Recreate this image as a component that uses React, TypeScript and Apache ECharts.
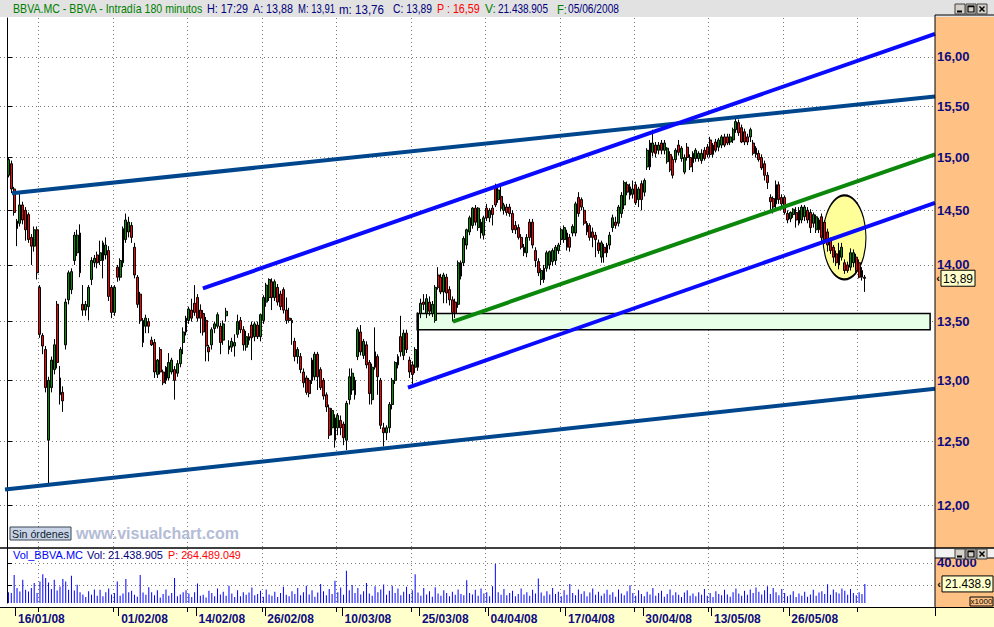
import React, { useEffect, useRef } from "react";
import * as echarts from "echarts";

const FONT = "'Liberation Sans', Arial, sans-serif";

// ---- trading calendar (one 180-minute bar per session) ----
const tradingMonths: { month: string; days: number[] }[] = [
  { month: "01", days: [15, 16, 17, 18, 21, 22, 23, 24, 25, 28, 29, 30, 31] },
  { month: "02", days: [1, 4, 5, 6, 7, 8, 11, 12, 13, 14, 15, 18, 19, 20, 21, 22, 25, 26, 27, 28, 29] },
  { month: "03", days: [3, 4, 5, 6, 7, 10, 11, 12, 13, 14, 17, 18, 19, 20, 25, 26, 27, 28, 31] },
  { month: "04", days: [1, 2, 3, 4, 7, 8, 9, 10, 11, 14, 15, 16, 17, 18, 21, 22, 23, 24, 25, 28, 29, 30] },
  { month: "05", days: [2, 5, 6, 7, 8, 9, 12, 13, 14, 15, 16, 19, 20, 21, 22, 23, 26, 27, 28, 29, 30] },
  { month: "06", days: [2, 3, 4, 5] },
];
const sessions = ["09:00", "12:00", "15:00"];
const labeledDates = ["16/01/08", "01/02/08", "14/02/08", "26/02/08", "10/03/08", "25/03/08", "04/04/08", "17/04/08", "30/04/08", "13/05/08", "26/05/08"];
const tickPrices = [12, 12.5, 13, 13.5, 14, 14.5, 15, 15.5, 16];
// vertical dotted grid, in bar-boundary positions
const gridPositions = [11, 37, 63, 89, 115, 141, 167, 193, 219, 245, 271, 297];

// ---- OHLC bars: [open, high, low, close] ----
const janBars = [
  [14.83,15.00,14.81,14.98],[14.94,14.97,14.66,14.70],[14.70,14.72,14.45,14.48],[14.40,14.42,14.17,14.33],[14.38,14.66,14.35,14.55],
  [14.55,14.58,14.37,14.41],[14.50,14.53,14.22,14.32],[14.46,14.48,14.20,14.23],[14.25,14.28,14.00,14.17],[14.17,14.35,14.12,14.32],
  [14.32,14.35,13.87,13.93],[13.80,13.82,13.36,13.39],[13.38,13.40,13.22,13.29],[13.26,13.29,12.90,12.94],[12.51,13.03,12.17,13.00],
  [12.94,13.20,12.90,13.17],[13.09,13.35,13.05,13.30],[13.65,13.68,13.10,13.15],[13.02,13.12,12.80,12.88],[12.90,12.95,12.74,12.83],
  [13.30,13.70,13.26,13.67],[13.69,13.95,13.65,13.93],[13.78,13.97,13.74,13.94],[14.04,14.30,14.00,14.27],[14.11,14.32,14.08,14.27],
  [14.29,14.37,13.89,13.93],[13.65,13.82,13.55,13.60],[13.60,13.68,13.55,13.65],[13.63,13.82,13.51,13.80],[13.87,14.07,13.82,14.04],
  [14.02,14.09,13.98,14.06],[14.09,14.12,13.97,14.02],[14.04,14.22,14.00,14.11],[14.04,14.22,13.88,14.20],[14.09,14.25,14.05,14.18],
  [14.13,14.17,13.68,13.72],[13.80,13.82,13.53,13.58],[13.58,13.82,13.55,13.80],[13.98,14.00,13.85,13.89],
];
const febBars = [
  [13.89,14.06,13.86,14.04],
  [14.02,14.35,13.98,14.33],[14.23,14.47,14.20,14.41],[14.30,14.44,14.25,14.39],[14.36,14.39,14.20,14.25],[14.16,14.20,13.88,13.91],
  [13.89,13.91,13.62,13.65],[13.74,13.76,13.48,13.51],[13.32,13.53,13.28,13.51],[13.46,13.56,13.40,13.53],[13.50,13.53,13.40,13.46],
  [13.34,13.37,13.29,13.30],[13.32,13.35,13.02,13.07],[13.05,13.18,13.02,13.17],[13.26,13.28,13.05,13.07],[13.07,13.09,12.96,12.98],
  [13.00,13.12,12.97,13.11],[13.02,13.23,13.00,13.15],[13.07,13.19,13.05,13.17],[13.09,13.12,12.84,13.00],[13.06,13.17,13.03,13.14],
  [13.14,13.28,13.11,13.26],[13.32,13.45,13.22,13.41],[13.41,13.55,13.38,13.53],[13.51,13.63,13.48,13.61],[13.60,13.70,13.50,13.53],
  [13.66,13.82,13.55,13.58],[13.71,13.74,13.50,13.53],[13.60,13.65,13.40,13.53],[13.57,13.60,13.38,13.41],[13.51,13.54,13.16,13.29],
  [13.28,13.30,13.16,13.24],[13.30,13.45,13.26,13.43],[13.44,13.50,13.40,13.48],[13.46,13.58,13.44,13.56],[13.46,13.49,13.22,13.32],
  [13.34,13.51,13.30,13.48],[13.55,13.62,13.50,13.59],[13.29,13.34,13.22,13.26],[13.28,13.36,13.24,13.33],[13.29,13.39,13.20,13.32],
  [13.39,13.56,13.36,13.50],[13.51,13.54,13.40,13.43],[13.43,13.46,13.25,13.30],[13.28,13.42,13.25,13.37],[13.34,13.40,13.30,13.37],
  [13.47,13.50,13.17,13.36],[13.37,13.50,13.33,13.48],[13.47,13.50,13.35,13.37],[13.37,13.57,13.33,13.56],[13.51,13.73,13.48,13.71],
  [13.67,13.84,13.63,13.82],[13.71,13.88,13.68,13.87],[13.85,13.88,13.60,13.71],[13.71,13.87,13.68,13.85],[13.80,13.83,13.64,13.67],
  [13.74,13.77,13.60,13.63],[13.78,13.80,13.57,13.60],[13.60,13.71,13.48,13.51],[13.53,13.62,13.49,13.51],[13.49,13.53,13.30,13.51],
  [13.33,13.36,13.16,13.20],[13.20,13.28,13.14,13.26],
];
const marBars = [
  [13.20,13.23,13.06,13.09],[13.07,13.10,12.94,12.98],[13.02,13.04,12.88,12.90],[13.00,13.02,12.86,12.89],[13.00,13.19,12.97,13.17],
  [13.03,13.24,13.00,13.22],[13.22,13.24,12.92,13.03],[13.09,13.11,12.92,12.94],[13.00,13.02,12.84,12.87],[12.88,12.90,12.74,12.78],
  [12.77,12.80,12.52,12.55],[12.61,12.77,12.55,12.75],[12.69,12.72,12.45,12.51],[12.61,12.73,12.55,12.71],[12.67,12.71,12.55,12.61],
  [12.64,12.66,12.47,12.53],[12.51,12.83,12.43,12.81],[12.84,13.10,12.80,13.03],[12.92,13.10,12.88,13.06],[13.00,13.03,12.84,12.88],
  [13.20,13.45,13.17,13.43],[13.41,13.47,13.21,13.24],[13.21,13.35,13.18,13.33],[13.30,13.33,13.10,13.13],[13.15,13.17,12.80,12.89],
  [12.84,13.14,12.80,13.11],[13.24,13.45,13.09,13.11],[13.20,13.22,12.88,13.03],[13.00,13.02,12.60,12.63],[12.61,12.65,12.46,12.57],
  [12.57,12.63,12.51,12.61],[12.61,12.82,12.57,12.80],[12.80,13.02,12.76,13.00],[13.00,13.16,12.97,13.15],[13.13,13.22,13.10,13.20],
  [13.37,13.55,13.20,13.24],[13.21,13.43,13.17,13.40],[13.40,13.43,13.23,13.26],[13.17,13.20,13.02,13.07],[13.13,13.16,12.97,13.05],
  [13.11,13.28,13.06,13.26],[13.11,13.58,13.08,13.57],[13.57,13.70,13.53,13.66],[13.67,13.74,13.60,13.65],[13.57,13.74,13.53,13.70],
  [13.67,13.72,13.55,13.59],[13.57,13.68,13.54,13.65],[13.51,13.82,13.49,13.80],[13.91,13.98,13.78,13.80],[13.89,13.92,13.74,13.76],
  [13.76,13.93,13.66,13.91],[13.89,13.92,13.66,13.75],[13.78,13.81,13.64,13.69],[13.69,13.72,13.50,13.58],[13.67,13.70,13.53,13.57],
  [13.65,14.04,13.62,14.02],[13.90,14.04,13.87,14.02],
];
const aprBars = [
  [14.02,14.26,13.99,14.24],
  [14.18,14.33,14.14,14.32],[14.30,14.45,14.27,14.43],[14.36,14.53,14.33,14.52],[14.52,14.55,14.36,14.39],[14.34,14.53,14.31,14.52],
  [14.39,14.42,14.24,14.29],[14.27,14.45,14.23,14.43],[14.52,14.56,14.40,14.43],[14.43,14.52,14.39,14.50],[14.52,14.55,14.36,14.46],
  [14.71,14.75,14.53,14.55],[14.60,14.72,14.57,14.69],[14.63,14.74,14.49,14.52],[14.50,14.57,14.46,14.55],[14.53,14.56,14.45,14.48],
  [14.53,14.56,14.44,14.47],[14.47,14.50,14.29,14.32],[14.36,14.40,14.28,14.32],[14.34,14.37,14.23,14.25],[14.25,14.28,14.14,14.16],
  [14.16,14.19,14.08,14.11],[14.11,14.28,14.07,14.25],[14.39,14.42,14.22,14.25],[14.39,14.42,14.15,14.18],[14.13,14.16,13.98,14.04],
  [14.03,14.06,13.90,13.93],[13.87,13.97,13.82,13.95],[13.97,14.00,13.84,13.87],[13.97,14.13,13.94,14.11],[14.00,14.13,13.96,14.12],
  [14.03,14.15,13.99,14.13],[14.04,14.18,14.00,14.16],[14.13,14.20,14.10,14.18],[14.23,14.34,14.18,14.32],[14.23,14.36,14.20,14.34],
  [14.29,14.32,14.13,14.16],[14.25,14.28,14.12,14.16],[14.29,14.37,14.26,14.35],[14.29,14.58,14.26,14.56],[14.62,14.67,14.44,14.47],
  [14.60,14.62,14.50,14.53],[14.50,14.53,14.36,14.38],[14.38,14.40,14.27,14.30],[14.36,14.38,14.22,14.25],[14.30,14.34,14.16,14.25],
  [14.27,14.30,14.07,14.23],[14.20,14.23,14.10,14.13],[14.07,14.22,14.02,14.20],[14.16,14.19,14.02,14.11],[14.11,14.20,14.07,14.18],
  [14.18,14.30,14.14,14.27],[14.34,14.46,14.30,14.43],[14.39,14.44,14.33,14.36],[14.38,14.55,14.35,14.53],[14.47,14.67,14.43,14.64],
  [14.55,14.78,14.51,14.76],[14.74,14.77,14.64,14.67],[14.72,14.75,14.60,14.64],[14.65,14.78,14.61,14.70],[14.74,14.77,14.55,14.57],
  [14.60,14.72,14.53,14.70],[14.75,14.78,14.50,14.60],[14.67,14.80,14.63,14.78],[14.91,15.09,14.88,15.07],[15.14,15.17,14.88,14.91],
];
const mayBars = [
  [15.05,15.27,15.01,15.14],[15.12,15.15,15.00,15.04],[15.07,15.15,15.03,15.12],[15.14,15.17,15.03,15.07],[15.07,15.17,15.03,15.14],
  [14.96,15.10,14.94,15.09],[15.03,15.06,14.86,14.88],[14.98,15.01,14.80,14.83],[14.98,15.09,14.95,15.07],[15.12,15.17,15.02,15.05],
  [14.99,15.11,14.96,15.09],[14.86,15.03,14.84,15.00],[15.10,15.14,14.97,15.00],[15.00,15.03,14.88,14.91],[14.95,15.06,14.86,15.04],
  [14.99,15.09,14.96,15.07],[14.99,15.06,14.96,15.04],[14.97,15.08,14.94,15.04],[15.07,15.10,14.97,14.99],[15.10,15.13,15.00,15.03],
  [15.17,15.20,15.00,15.03],[15.03,15.14,15.00,15.12],[15.15,15.18,15.05,15.07],[15.10,15.19,15.06,15.17],[15.12,15.22,15.09,15.20],
  [15.20,15.23,15.10,15.12],[15.20,15.23,15.12,15.14],[15.15,15.23,15.12,15.20],[15.17,15.29,15.14,15.27],[15.27,15.40,15.24,15.35],
  [15.34,15.37,15.21,15.24],[15.29,15.32,15.14,15.15],[15.25,15.28,15.12,15.15],[15.20,15.23,15.12,15.15],[15.20,15.29,15.15,15.27],
  [15.14,15.17,15.02,15.04],[15.09,15.11,15.00,15.03],[15.04,15.07,14.96,14.98],[15.00,15.03,14.88,14.90],[14.94,14.97,14.78,14.83],
  [14.83,14.86,14.70,14.76],[14.62,14.65,14.48,14.58],[14.61,14.63,14.47,14.53],[14.56,14.78,14.52,14.74],[14.74,14.77,14.56,14.60],
  [14.62,14.65,14.52,14.56],[14.62,14.64,14.46,14.48],[14.47,14.50,14.38,14.41],[14.42,14.49,14.39,14.48],[14.46,14.52,14.43,14.51],
  [14.48,14.53,14.34,14.41],[14.50,14.53,14.36,14.38],[14.41,14.55,14.38,14.53],[14.44,14.55,14.40,14.53],[14.50,14.53,14.38,14.41],
  [14.48,14.51,14.29,14.34],[14.38,14.48,14.34,14.46],[14.32,14.46,14.29,14.44],[14.32,14.43,14.29,14.41],[14.44,14.47,14.21,14.25],
  [14.39,14.41,14.19,14.23],[14.30,14.33,14.12,14.18],[14.23,14.25,14.10,14.13],
];
const junBars = [
  [14.16,14.18,14.02,14.07],[14.10,14.13,13.99,14.02],[14.00,14.20,13.96,14.13],[14.07,14.20,14.04,14.16],[14.02,14.05,13.92,13.95],
  [14.00,14.03,13.93,13.95],[13.98,14.15,13.95,14.11],[14.02,14.14,13.98,14.11],[14.07,14.10,13.93,13.95],[14.02,14.05,13.88,13.89],
  [13.95,13.98,13.86,13.89],[13.88,13.91,13.76,13.89],
];

// ---- volume per bar, thousands of shares ----
const janVolume = [14000,13400,29400,17800,14800,25200,16400,14800,17800,22200,13400,23600,30100,26600,22800,16900,25200,15700,19200,25700,23600,16400,28700,15700,20800,14000,12000,9800,15000,11800,16600,11000,16200,10600,14200,17400,12200,13400,23600];
const febVolume = [11000,13000,25700,14200,15400,11800,10200,29400,13800,11800,18600,14200,11400,15800,9400,12600,16600,11000,13400,26600,10600,12200,14200,15800,13000,9800,14200,21800,11000,11800,9400,15400,13400,10600,17400,12200,14600,11000,19800,13000,9800,15800,10600,14200,11800,13800,18200,11400,12600,15400,10200,16600,12200,11000,14600,9800,13400,19000,11800,10600,15000,12600,17800];
const marVolume = [11400,14200,19800,12200,15800,10200,13800,21400,15000,11400,17000,12600,24200,14200,18200,11800,33100,15800,20600,13400,17800,12200,15000,22200,13000,11000,19400,14200,16600,21000,11800,15400,19800,13400,17400,11400,14600,19000,12600,15800,30100,13800,11000,17800,12200,15000,10200,18600,13000,11000,15800,13400,10600,14600,11800,16600,12600];
const aprVolume = [11400,24600,13400,12200,16200,11000,17400,13000,14200,10600,19400,39000,14200,11800,17000,11400,13400,15400,10600,12600,17400,12200,14200,11000,16200,13000,26200,13800,11000,15000,12200,17800,12600,14600,10600,15800,11800,21400,13400,11400,16600,12600,15000,10600,13800,17400,11800,14600,11000,13000,16200,11800,14200,10200,16600,13000,11400,15000,20200,13400,11000,15800,12600,10600,14600,12200];
const mayVolume = [17800,11000,13400,15400,10200,12600,16600,11400,14200,11800,9800,13800,15800,11000,13000,10600,14200,11800,17000,11000,13400,9800,15000,12600,11400,16200,12200,10200,14200,17400,13000,11000,15400,11800,16600,13400,18200,14600,12200,15800,19400,12600,17800,14200,11400,17000,13400,10600,11800,15000,9800,13000,11000,14600,10200,12200,16200,11000,13800,15000,12600,21100,11800];
const junVolume = [16600,14200,13000,17400,15400,11800,17000,13400,11400,14200,12600,21438.9];

// ---- drawn annotations: [bar position, price] ----
const trendLines = [
  { name: "Canal largo superior", color: "#00468c", points: [[1.75, 14.66], [324, 15.6]] },
  { name: "Canal largo inferior", color: "#00468c", points: [[-0.7, 12.12], [324, 12.93]] },
  { name: "Canal alcista superior", color: "#0a0aff", points: [[68.4, 13.79], [324, 16.24]] },
  { name: "Canal alcista inferior", color: "#0a0aff", points: [[140.0, 12.94], [324, 14.57]] },
  { name: "Directriz", color: "#0b870b", points: [[155.7, 13.5], [324, 15.03]] },
];
const supportZone = { from: 143.2, to: 322.3, low: 13.43, high: 13.57 };
const highlight = { at: 292.4, price: 14.25 };

const allBars = [...janBars, ...febBars, ...marBars, ...aprBars, ...mayBars, ...junBars];
const allVolume = [...janVolume, ...febVolume, ...marVolume, ...aprVolume, ...mayVolume, ...junVolume];

export default function App() {
  const ref = useRef<HTMLDivElement>(null);
  useEffect(() => {
    const el = ref.current as HTMLDivElement;
    const chart = echarts.init(el, null, { renderer: "svg" });

    const categories: string[] = [];
    tradingMonths.forEach(({ month, days }) =>
      days.forEach((d) => sessions.forEach((s) => categories.push(`${String(d).padStart(2, "0")}/${month}/08 ${s}`)))
    );
    for (let k = 0; k < 24; k++) categories.push(`pad${k}`);

    const labelIdx = new Set(labeledDates.map((d) => categories.indexOf(`${d} 09:00`)));
    const dateFn = (i: number) => labelIdx.has(i);

    const lnMin = 2.4573;
    const lnMax = 2.79763;
    const tickLn = tickPrices.map((p) => Math.log(p));
    const candle = allBars.map(([o, h, l, c]) => [Math.log(o), Math.log(c), Math.log(l), Math.log(h)]);
    const dotted = { color: "#7a7a7a", width: 1, type: [1, 3] as any };
    const navy = "#0c0c80";

    chart.setOption({
      animation: false,
      backgroundColor: "#ffffff",
      textStyle: { fontFamily: FONT },
      grid: [
        { left: 7, top: 18, width: 928, height: 530 },
        { left: 0, top: 18, width: 935, height: 530 },
        { left: 7, top: 549, width: 928, height: 54 },
      ],
      xAxis: [
        {
          type: "category", gridIndex: 0, data: categories, boundaryGap: true,
          axisLine: { show: false }, axisTick: { show: false }, axisLabel: { show: false }, splitLine: { show: false },
        },
        {
          type: "value", gridIndex: 1, min: -2.444, max: 324,
          axisLine: { show: false }, axisTick: { show: false, customValues: gridPositions.map((g) => g) },
          axisLabel: { show: false }, splitLine: { show: true, lineStyle: dotted },
        },
        {
          type: "category", gridIndex: 2, data: categories, boundaryGap: true, offset: 4,
          axisLine: { show: true, onZero: false, lineStyle: { color: "#000", width: 1 } },
          axisTick: { show: true, interval: dateFn, length: 9, lineStyle: { color: "#000", width: 1 } },
          axisLabel: {
            show: true, interval: dateFn, formatter: (v: string) => v.slice(0, 8), align: "left",
            margin: 6, color: navy, fontWeight: "bold", fontSize: 12, fontFamily: FONT, padding: [0, 0, 0, 1],
          },
          splitLine: { show: false },
        },
        {
          type: "value", gridIndex: 2, min: 0, max: 324, offset: 4, position: "bottom",
          axisLine: { show: false, onZero: false },
          axisTick: { show: true, customValues: gridPositions, length: 5, lineStyle: { color: "#000", width: 1 } },
          axisLabel: { show: false }, splitLine: { show: true, lineStyle: dotted },
        },
      ],
      yAxis: [
        { type: "value", gridIndex: 0, min: lnMin, max: lnMax, show: false },
        {
          type: "value", gridIndex: 1, min: lnMin, max: lnMax, position: "right",
          axisLine: { show: true, lineStyle: { color: "#000", width: 1 } },
          axisTick: { show: true, customValues: tickLn, length: 5, lineStyle: { color: "#000" } },
          axisLabel: {
            customValues: tickLn, formatter: (v: number) => Math.exp(v).toFixed(2).replace(".", ","),
            color: navy, fontWeight: "bold", fontSize: 13, fontFamily: FONT, margin: 2,
          },
          splitLine: { show: true, lineStyle: dotted },
        },
        {
          type: "value", gridIndex: 2, min: 4600, max: 52300, position: "right",
          axisLine: { show: true, lineStyle: { color: "#000", width: 1 } },
          axisTick: { show: true, customValues: [20000, 40000], length: 5, lineStyle: { color: "#000" } },
          axisLabel: {
            customValues: [40000], formatter: () => "40.000",
            color: navy, fontWeight: "bold", fontSize: 13, fontFamily: FONT, margin: 2,
          },
          splitLine: { show: true, lineStyle: dotted },
        },
      ],
      series: [
        {
          name: "BBVA", type: "candlestick", xAxisIndex: 0, yAxisIndex: 0, data: candle, barWidth: 2.4, silent: true, z: 3,
          itemStyle: { color: "#009000", color0: "#ff0000", borderColor: "#000000", borderColor0: "#000000", borderWidth: 1 },
        },
        ...trendLines.map((t) => ({
          name: t.name, type: "line", xAxisIndex: 1, yAxisIndex: 1, silent: true, z: 4, symbol: "none",
          data: t.points.map(([x, p]) => [x, Math.log(p)]),
          lineStyle: { color: t.color, width: 4 },
        })),
        {
          name: "Zona", type: "scatter", xAxisIndex: 1, yAxisIndex: 1, silent: true, z: 2,
          data: [[highlight.at, Math.log(highlight.price)]], symbol: "circle", symbolSize: [43, 84],
          itemStyle: { color: "#ffff99", borderColor: "#000", borderWidth: 1.5, opacity: 1 },
          markArea: {
            silent: true,
            itemStyle: { color: "#e6ffe6", borderColor: "#000", borderWidth: 1.5 },
            data: [[{ coord: [supportZone.from, Math.log(supportZone.high)] }, { coord: [supportZone.to, Math.log(supportZone.low)] }]],
          },
        },
        {
          name: "Vol_BBVA.MC", type: "bar", xAxisIndex: 2, yAxisIndex: 2, data: allVolume, barWidth: 1, silent: true,
          itemStyle: { color: "#0000ff" },
        },
      ],
    });

    const lastClose = allBars[allBars.length - 1][3];
    const lastVol = allVolume[allVolume.length - 1];
    const yTag = chart.convertToPixel({ yAxisIndex: 1 }, Math.log(lastClose)) as number;
    const yVol = chart.convertToPixel({ yAxisIndex: 2 }, lastVol) as number;

    const ctx = document.createElement("canvas").getContext("2d") as CanvasRenderingContext2D;
    const txt = (text: string, x: number, y: number, fill: string, font: string, align = "left", z = 50, fitWidth = 0) => {
      let sx = 1;
      if (fitWidth > 0) {
        ctx.font = font;
        const w = ctx.measureText(text).width;
        if (w > fitWidth) sx = fitWidth / w;
      }
      return {
        type: "text", z, silent: true, x, y, scaleX: sx,
        style: { text, x: 0, y: 0, fill, font, textAlign: align, align, textVerticalAlign: "middle", verticalAlign: "middle" },
      };
    };
    const rect = (x: number, y: number, w: number, h: number, fill: string, stroke?: string, z = -10, lw = 1) => ({
      type: "rect", z, silent: true, shape: { x, y, width: w, height: h },
      style: { fill, stroke: stroke || null, lineWidth: lw },
    });
    const line = (x1: number, y1: number, x2: number, y2: number, stroke = "#000", lw = 1, z = 40) => ({
      type: "line", z, silent: true, shape: { x1, y1, x2, y2 }, style: { stroke, lineWidth: lw },
    });
    const buttons = (x: number, y: number) => [
      rect(x, y, 10, 10, "#d4d0c8", "#404040", 45),
      line(x + 2, y + 7.5, x + 7, y + 7.5, "#000", 2, 46),
      rect(x + 11, y, 10, 10, "#d4d0c8", "#404040", 45),
      rect(x + 13, y + 2, 6, 6, "none", "#000", 46, 1.2),
      line(x + 13, y + 2.5, x + 19, y + 2.5, "#000", 1.5, 46),
      rect(x + 22, y, 10, 10, "#d4d0c8", "#404040", 45),
      line(x + 24.5, y + 2.5, x + 29.5, y + 7.5, "#000", 1.5, 46),
      line(x + 29.5, y + 2.5, x + 24.5, y + 7.5, "#000", 1.5, 46),
    ];
    const f11 = `11px ${FONT}`;
    const f12 = `12px ${FONT}`;
    const hdrNavy = "#00007a";

    chart.setOption({
      graphic: {
        elements: [
          rect(0, 0, 994, 17, "#e2e2e2", undefined, 30),
          rect(935, 15, 59, 533, "#ffc184"),
          rect(935, 548, 59, 10, "#f2f2f2", undefined, 30),
          rect(935, 558, 59, 49, "#ffc184"),
          rect(0, 607, 994, 20, "#ffffcc"),
          line(0, 548, 994, 548, "#000", 1.5),
          line(935, 15, 935, 607, "#000", 1),
          line(935, 15, 994, 15, "#000", 1),
          line(935, 558, 994, 558, "#000", 1),
          line(0, 607.5, 994, 607.5, "#000", 1),
          txt("BBVA.MC - BBVA - Intradía 180 minutos", 13, 9, "#008000", f12, "left", 50, 190),
          txt("H: 17:29", 207, 9, hdrNavy, f12, "left", 50, 41),
          txt("A: 13,88", 253, 9, hdrNavy, f12, "left", 50, 40),
          txt("M: 13,91", 298, 9, hdrNavy, f12, "left", 50, 37),
          txt("m: 13,76", 339, 9, hdrNavy, f12, "left", 50, 45),
          txt("C: 13,89", 393, 9, hdrNavy, f12, "left", 50, 39),
          txt("P : 16,59", 437, 9, "#ff0000", f12, "left", 50, 43),
          txt("V:", 485, 9, "#008000", f12, "left", 50, 11),
          txt("21.438.905", 498, 9, hdrNavy, f12, "left", 50, 50),
          txt("F:", 557, 9, "#008000", f12, "left", 50, 10),
          txt("05/06/2008", 568, 9, hdrNavy, f12, "left", 50, 51),
          ...buttons(955, 4),
          ...buttons(955, 549),
          txt("Vol_BBVA.MC", 13, 555, "#0000ff", f11, "left", 50, 70),
          txt("Vol:", 87, 555, hdrNavy, f11, "left", 50, 19),
          txt("21.438.905", 108, 555, hdrNavy, f11, "left", 50, 55),
          txt("P: 264.489.049", 168, 555, "#ff0000", f11, "left", 50, 73),
          rect(10, 527, 61, 13, "#c8d4e6", "#3a4452", 45),
          txt("Sin órdenes", 40.5, 533.5, "#102030", f11, "center", 50, 57),
          txt("www.visualchart.com", 76, 533, "#b4bcd6", `bold 16px ${FONT}`, "left", 50, 170),
          txt("‹", 938, yTag + 1, "#000", `bold 11px ${FONT}`, "center"),
          rect(941, yTag - 7, 34, 16, "#ffffcc", "#000", 50),
          txt("13,89", 958, yTag + 1.5, "#000", `12px ${FONT}`, "center", 51),
          txt("‹", 939, yVol, "#000", `bold 11px ${FONT}`, "center"),
          rect(942, yVol - 8, 51, 16, "#ffffcc", "#000", 50),
          txt("21.438.9", 945, yVol, "#000", `12px ${FONT}`, "left", 51, 46),
          rect(970, 597, 23, 9, "#ffc184", "#000", 50),
          txt("x1000", 981.5, 601.8, "#000", `8px ${FONT}`, "center", 51),
        ],
      },
    });

    return () => chart.dispose();
  }, []);
  return <div ref={ref} style={{ position: "absolute", left: 0, top: 0, width: 994, height: 627 }} />;
}
